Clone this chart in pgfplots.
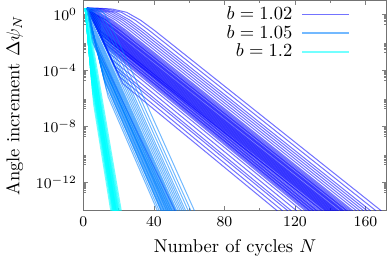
\documentclass[border=0pt]{standalone}
\usepackage{pgfplots}
\pgfplotsset{compat=1.18}
\definecolor{cA}{RGB}{0,0,255}
\definecolor{cB}{RGB}{0,128,255}
\definecolor{cC}{RGB}{0,255,255}
\pgfplotsset{
  sA/.style={cA, opacity=0.55, line width=0.55pt},
  sB/.style={cB, opacity=0.55, line width=0.55pt},
  sC/.style={cC, opacity=0.55, line width=0.55pt},
}
% each line: N and log10 of the angle increment
\newcommand{\LA}[1]{\addplot[sA,forget plot] table[row sep=\\,y expr=10^(\thisrowno{1})]{#1};}
\newcommand{\LB}[1]{\addplot[sB,forget plot] table[row sep=\\,y expr=10^(\thisrowno{1})]{#1};}
\newcommand{\LC}[1]{\addplot[sC,forget plot] table[row sep=\\,y expr=10^(\thisrowno{1})]{#1};}
\def\myminor{2e-13}
\foreach \k in {-13,-11,...,-1}{\foreach \m in {2,...,9}{\xdef\myminor{\myminor,\m e\k}}}
\begin{document}
\begin{tikzpicture}
\begin{axis}[
  width=163.8pt, height=113.7pt, scale only axis,
  xmin=0, xmax=172, ymode=log, ymin=1e-14, ymax=10,
  xtick={0,40,80,120,160}, minor x tick num=1,
  ytick={1e-12,1e-8,1e-4,1},
  minor ytick/.expanded={\myminor},
  major tick length=2.6pt, minor tick length=1.5pt,
  axis line style={black!55}, every tick/.style={black!50},
  tick label style={font=\fontsize{8.5}{10}\selectfont},
  label style={font=\fontsize{10}{12}\selectfont},
  xlabel={Number of cycles $N$},
  ylabel={Angle increment $\Delta\psi_N$},
  legend style={draw=none, fill=none, at={(0.897,0.996)}, anchor=north east,
    font=\fontsize{9.6}{11}\selectfont,
    nodes={inner ysep=0.8pt, inner xsep=2pt}, /tikz/column sep=3pt},
  legend cell align=right,
  legend plot pos=right,
  legend image code/.code={\draw[#1, line width=0.9pt] (0pt,0pt) -- (25pt,0pt);},
]
% ---------------- b = 1.02
\addplot[sA] table[row sep=\\,y expr=10^(\thisrowno{1})]{2 0.45\\ 10 -1.0\\ 140 -14\\};
\addlegendentry{$b=1.02$}
\LA{2 0.45\\ 22.3 -4.93\\ 110 -14\\}
\LA{2 0.45\\ 20.6 -4.46\\ 113 -14\\}
\LA{2 0.45\\ 18.9 -3.99\\ 116 -14\\}
\LA{2 0.45\\ 17.8 -3.68\\ 118 -14\\}
\LA{2 0.45\\ 16.2 -3.22\\ 121 -14\\}
\LA{2 0.45\\ 14.5 -2.75\\ 124 -14\\}
\LA{2 0.45\\ 13.4 -2.44\\ 126 -14\\}
\LA{2 0.45\\ 12.8 -2.28\\ 127 -14\\}
\LA{2 0.45\\ 12.3 -2.13\\ 128 -14\\}
\LA{2 0.45\\ 12.0 -2.05\\ 128.5 -14\\}
\LA{2 0.45\\ 11.7 -1.97\\ 129 -14\\}
\LA{2 0.45\\ 11.2 -1.82\\ 130 -14\\}
\LA{2 0.45\\ 10.9 -1.74\\ 130.5 -14\\}
\LA{2 0.45\\ 10.6 -1.66\\ 131 -14\\}
\LA{2 0.45\\ 10.1 -1.51\\ 132 -14\\}
\LA{2 0.45\\ 9.8 -1.43\\ 132.5 -14\\}
\LA{2 0.45\\ 9.5 -1.35\\ 133 -14\\}
\LA{2 0.45\\ 8.9 -1.19\\ 134 -14\\}
\LA{2 0.45\\ 8.4 -1.04\\ 135 -14\\}
\LA{2 0.45\\ 10 -1.45\\ 135.5 -14\\}
\LA{2 0.45\\ 10 -1.4\\ 136 -14\\}
\LA{2 0.45\\ 10 -1.3\\ 137 -14\\}
\LA{2 0.45\\ 10 -1.25\\ 137.5 -14\\}
\LA{2 0.45\\ 10 -1.2\\ 138 -14\\}
\LA{2 0.45\\ 10 -1.15\\ 138.5 -14\\}
\LA{2 0.45\\ 10 -1.1\\ 139 -14\\}
\LA{2 0.45\\ 10 -1.05\\ 139.5 -14\\}
\LA{2 0.45\\ 10 -0.95\\ 140.5 -14\\}
\LA{2 0.45\\ 10 -0.9\\ 141 -14\\}
\LA{2 0.45\\ 10 -0.85\\ 141.5 -14\\}
\LA{2 0.45\\ 10 -0.8\\ 142 -14\\}
\LA{2 0.45\\ 10 -0.75\\ 142.5 -14\\}
\LA{2 0.45\\ 10 -0.7\\ 143 -14\\}
\LA{2 0.45\\ 10 -0.65\\ 143.5 -14\\}
\LA{2 0.45\\ 10 -0.6\\ 144 -14\\}
\LA{2 0.45\\ 10 -0.55\\ 144.5 -14\\}
\LA{2 0.45\\ 10 -0.5\\ 145 -14\\}
\LA{2 0.45\\ 9.5 -0.42\\ 17.5 -1.16\\ 146 -14\\}
\LA{2 0.45\\ 10 -0.42\\ 18 -1.16\\ 146.5 -14\\}
\LA{2 0.45\\ 10.5 -0.42\\ 18.5 -1.16\\ 147 -14\\}
\LA{2 0.45\\ 11 -0.42\\ 19 -1.16\\ 147.5 -14\\}
\LA{2 0.45\\ 11.5 -0.42\\ 19.5 -1.16\\ 148 -14\\}
\LA{2 0.45\\ 4.5 0.15\\ 12.5 -0.42\\ 20.5 -1.16\\ 149 -14\\}
\LA{2 0.45\\ 5 0.15\\ 13 -0.42\\ 21 -1.16\\ 149.5 -14\\}
\LA{2 0.45\\ 5.5 0.15\\ 13.5 -0.42\\ 21.5 -1.16\\ 150 -14\\}
\LA{2 0.45\\ 6.5 0.15\\ 14.5 -0.42\\ 22.5 -1.16\\ 151 -14\\}
\LA{2 0.45\\ 7.5 0.15\\ 15.5 -0.42\\ 23.5 -1.16\\ 152 -14\\}
\LA{2 0.45\\ 8.5 0.15\\ 16.5 -0.42\\ 24.5 -1.16\\ 153 -14\\}
\LA{2 0.45\\ 10.5 0.15\\ 18.5 -0.42\\ 26.5 -1.16\\ 155 -14\\}
\LA{2 0.45\\ 4.5 0.38\\ 12.5 0.15\\ 20.5 -0.42\\ 28.5 -1.16\\ 157 -14\\}
\LA{2 0.45\\ 6.5 0.38\\ 14.5 0.15\\ 22.5 -0.42\\ 30.5 -1.16\\ 159 -14\\}
\LA{2 0.45\\ 8.5 0.38\\ 16.5 0.15\\ 24.5 -0.42\\ 32.5 -1.16\\ 161 -14\\}
\LA{2 0.45\\ 10.5 0.38\\ 18.5 0.15\\ 26.5 -0.42\\ 34.5 -1.16\\ 163 -14\\}
\LA{2 0.45\\ 5.5 0.44\\ 13.5 0.38\\ 21.5 0.15\\ 29.5 -0.42\\ 37.5 -1.16\\ 166 -14\\}
\LA{2 0.45\\ 8.5 0.44\\ 16.5 0.38\\ 24.5 0.15\\ 32.5 -0.42\\ 40.5 -1.16\\ 169 -14\\}
\LA{2 0.45\\ 7 -2.2\\ 52 -14\\}
% ---------------- b = 1.05
\addplot[sB] table[row sep=\\,y expr=10^(\thisrowno{1})]{2 0.45\\ 5 -1.4\\ 50 -14\\};
\addlegendentry{$b=1.05$}
\LB{2 0.45\\ 14.0 -5.87\\ 42 -14\\}
\LB{2 0.45\\ 13.0 -5.3\\ 43 -14\\}
\LB{2 0.45\\ 11.96 -4.73\\ 44 -14\\}
\LB{2 0.45\\ 11.7 -4.6\\ 44.2 -14\\}
\LB{2 0.45\\ 11.4 -4.44\\ 44.5 -14\\}
\LB{2 0.45\\ 10.9 -4.16\\ 45 -14\\}
\LB{2 0.45\\ 10.4 -3.87\\ 45.5 -14\\}
\LB{2 0.45\\ 10.1 -3.7\\ 45.8 -14\\}
\LB{2 0.45\\ 9.9 -3.59\\ 46 -14\\}
\LB{2 0.45\\ 9.37 -3.3\\ 46.5 -14\\}
\LB{2 0.45\\ 8.85 -3.02\\ 47 -14\\}
\LB{2 0.45\\ 8.6 -2.9\\ 47.2 -14\\}
\LB{2 0.45\\ 8.33 -2.73\\ 47.5 -14\\}
\LB{2 0.45\\ 5 -1.96\\ 48 -14\\}
\LB{2 0.45\\ 5 -1.9\\ 48.2 -14\\}
\LB{2 0.45\\ 5 -1.82\\ 48.5 -14\\}
\LB{2 0.45\\ 5 -1.68\\ 49 -14\\}
\LB{2 0.45\\ 5 -1.62\\ 49.2 -14\\}
\LB{2 0.45\\ 5 -1.54\\ 49.5 -14\\}
\LB{2 0.45\\ 5 -1.34\\ 50.2 -14\\}
\LB{2 0.45\\ 5 -1.26\\ 50.5 -14\\}
\LB{2 0.45\\ 5 -1.12\\ 51 -14\\}
\LB{2 0.45\\ 5 -0.98\\ 51.5 -14\\}
\LB{2 0.45\\ 5 -0.84\\ 52 -14\\}
\LB{2 0.45\\ 5 -0.7\\ 52.5 -14\\}
\LB{2 0.45\\ 5 -0.56\\ 53 -14\\}
\LB{2 0.45\\ 5.4 -0.46\\ 8.4 -1.24\\ 54 -14\\}
\LB{2 0.45\\ 3.4 0.15\\ 6.4 -0.46\\ 9.4 -1.24\\ 55 -14\\}
\LB{2 0.45\\ 4.4 0.15\\ 7.4 -0.46\\ 10.4 -1.24\\ 56 -14\\}
\LB{2 0.45\\ 5.4 0.15\\ 8.4 -0.46\\ 11.4 -1.24\\ 57 -14\\}
\LB{2 0.45\\ 3.4 0.39\\ 6.4 0.15\\ 9.4 -0.46\\ 12.4 -1.24\\ 58 -14\\}
\LB{2 0.45\\ 4.9 0.39\\ 7.9 0.15\\ 10.9 -0.46\\ 13.9 -1.24\\ 59.5 -14\\}
\LB{2 0.45\\ 6.4 0.39\\ 9.4 0.15\\ 12.4 -0.46\\ 15.4 -1.24\\ 61 -14\\}
\LB{2 0.45\\ 8.4 0.39\\ 11.4 0.15\\ 14.4 -0.46\\ 17.4 -1.24\\ 63 -14\\}
% ---------------- b = 1.2
\addplot[sC] table[row sep=\\,y expr=10^(\thisrowno{1})]{1 0.45\\ 3.27 -2.65\\ 18 -14\\};
\addlegendentry{$b=1.2$}
\LC{1 0.45\\ 5.77 -6.4\\ 15.5 -14\\}
\LC{1 0.45\\ 5.27 -5.65\\ 16 -14\\}
\LC{1 0.45\\ 4.97 -5.2\\ 16.3 -14\\}
\LC{1 0.45\\ 4.67 -4.75\\ 16.6 -14\\}
\LC{1 0.45\\ 4.47 -4.45\\ 16.8 -14\\}
\LC{1 0.45\\ 4.37 -4.3\\ 16.9 -14\\}
\LC{1 0.45\\ 4.27 -4.15\\ 17.0 -14\\}
\LC{1 0.45\\ 4.07 -3.85\\ 17.2 -14\\}
\LC{1 0.45\\ 3.87 -3.55\\ 17.4 -14\\}
\LC{1 0.45\\ 3.77 -3.4\\ 17.5 -14\\}
\LC{1 0.45\\ 3.67 -3.25\\ 17.6 -14\\}
\LC{1 0.45\\ 3.57 -3.1\\ 17.7 -14\\}
\LC{1 0.45\\ 3.47 -2.95\\ 17.8 -14\\}
\LC{1 0.45\\ 3.17 -2.5\\ 18.1 -14\\}
\LC{1 0.45\\ 3.07 -2.35\\ 18.2 -14\\}
\LC{1 0.45\\ 2.97 -2.2\\ 18.3 -14\\}
\LC{1 0.45\\ 2.87 -2.05\\ 18.4 -14\\}
\LC{1 0.45\\ 2.77 -1.9\\ 18.5 -14\\}
\LC{1 0.45\\ 2.67 -1.75\\ 18.6 -14\\}
\LC{1 0.45\\ 2.57 -1.6\\ 18.7 -14\\}
\LC{1 0.45\\ 2.47 -1.45\\ 18.8 -14\\}
\LC{1 0.45\\ 2.27 -1.15\\ 19 -14\\}
\LC{1 0.45\\ 2.07 -0.85\\ 19.2 -14\\}
\LC{1 0.45\\ 1.87 -0.55\\ 19.4 -14\\}
\LC{1 0.45\\ 1.67 -0.25\\ 19.6 -14\\}
\LC{1 0.45\\ 2 -0.8\\ 19.8 -14\\}
\LC{1 0.45\\ 2.5 -1.0\\ 20 -14\\}
\LC{1 0.45\\ 2.5 -0.8\\ 20.3 -14\\}
\LC{1 0.45\\ 2.5 -0.55\\ 20.6 -14\\}
\LC{1 0.45\\ 3 -0.75\\ 21 -14\\}
\LC{1 0.45\\ 2.2 0.15\\ 3.5 -0.75\\ 21.5 -14\\}
\end{axis}
\end{tikzpicture}
\end{document}
